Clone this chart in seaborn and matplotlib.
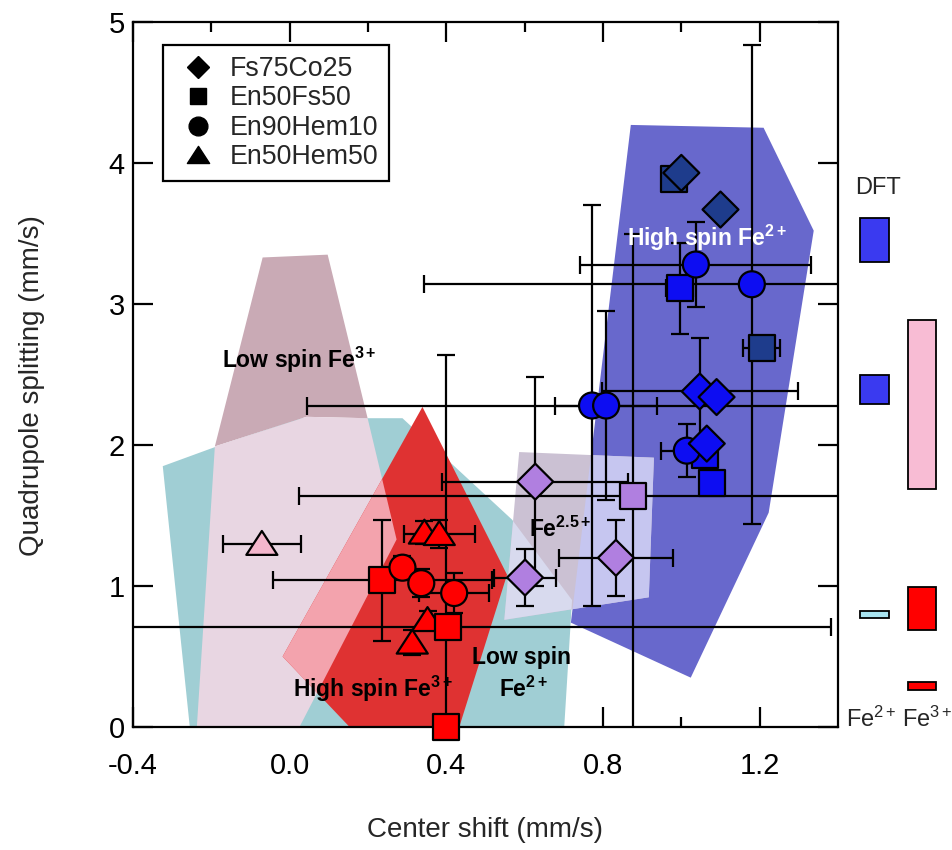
import numpy as np
import pandas as pd
import matplotlib
matplotlib.use("Agg")
import matplotlib.pyplot as plt
from matplotlib.path import Path
from matplotlib.lines import Line2D
from matplotlib.patches import Polygon
from matplotlib.ticker import MultipleLocator, FixedLocator
import seaborn as sns

# ---------------- data ----------------
sample = (["En50Hem50"] * 5 + ["En50Fs50"] * 9 + ["En90Hem10"] * 8 + ["Fs75Co25"] * 8)
center_shift = [-0.071, 0.344, 0.382, 0.352, 0.313,
                0.981, 0.996, 1.205, 1.078, 1.060, 0.876, 0.237, 0.405, 0.400,
                1.037, 1.180, 0.772, 0.808, 1.014, 0.288, 0.336, 0.420,
                1.000, 1.100, 1.047, 1.090, 1.065, 0.627, 0.601, 0.833]
quad_split = [1.30, 1.38, 1.37, 0.76, 0.60,
              3.89, 3.11, 2.69, 1.73, 1.93, 1.64, 1.04, 0.71, 0.00,
              3.28, 3.14, 2.28, 2.28, 1.96, 1.13, 1.02, 0.95,
              3.93, 3.67, 2.38, 2.34, 2.01, 1.74, 1.06, 1.20]
cs_err = [0.10, 0.0, 0.09, 0.0, 0.0,
          0.0, 0.035, 0.048, 0.0, 0.0, 0.851, 0.28, 0.976, 0.0,
          0.295, 0.836, 0.729, 0.13, 0.065, 0.0, 0.0, 0.09,
          0.0, 0.0, 0.25, 0.0, 0.0, 0.237, 0.08, 0.145]
qs_err = [0.0, 0.08, 0.10, 0.06, 0.09,
          0.0, 0.32, 0.0, 0.0, 0.0, 1.86, 0.43, 0.0, 2.64,
          0.30, 1.70, 1.42, 0.67, 0.19, 0.08, 0.10, 0.14,
          0.0, 0.0, 0.38, 0.0, 0.0, 0.74, 0.20, 0.27]
fill = (["#f4b6cc", "#ff0000", "#ff0000", "#ff0000", "#ff0000"]
        + ["#1e3c8c", "#0d0df2", "#1e3c8c", "#0d0df2", "#0d0df2", "#b07fe0", "#ff0000", "#ff0000", "#ff0000"]
        + ["#0d0df2"] * 5 + ["#ff0000"] * 3
        + ["#1e3c8c", "#1e3c8c", "#0d0df2", "#0d0df2", "#0d0df2", "#b07fe0", "#b07fe0", "#b07fe0"])

legend_order = ["Fs75Co25", "En50Fs50", "En90Hem10", "En50Hem50"]

# shaded regions (center shift, quadrupole splitting)
lowspin_fe2_cs = [-0.255, -0.324, -0.196, 0.025, 0.288, 0.568, 0.721, 0.701]
lowspin_fe2_qs = [0.0, 1.85, 1.98, 2.19, 2.19, 1.47, 0.90, 0.0]
lowspin_fe3_cs = [-0.191, -0.069, 0.097, 0.199, 0.043]
lowspin_fe3_qs = [1.99, 3.33, 3.35, 2.19, 2.20]
pale_cs = [-0.237, -0.191, 0.043, 0.199, 0.273, 0.025]
pale_qs = [0.0, 1.99, 2.20, 2.19, 1.33, 0.0]
highspin_fe3_cs = [0.339, 0.555, 0.433, 0.153, -0.018]
highspin_fe3_qs = [2.27, 1.08, 0.0, 0.0, 0.50]
highspin_fe2_cs = [0.871, 1.210, 1.338, 1.223, 1.024, 0.718]
highspin_fe2_qs = [4.27, 4.25, 3.52, 1.52, 0.35, 0.74]
fe25_cs = [0.586, 0.930, 0.917, 0.548]
fe25_qs = [1.95, 1.91, 0.92, 0.76]

# DFT ranges
dft_col = [0, 0, 0, 1, 1, 1]
dft_low = [3.30, 2.29, 0.77, 1.69, 0.69, 0.26]
dft_high = [3.61, 2.50, 0.82, 2.89, 0.99, 0.32]
dft_color = ["#3a3af0", "#3a3af0", "#a8e4f0", "#f8bcd4", "#ff0000", "#ff0000"]
dft_labels = ["Fe$^{2+}$", "Fe$^{3+}$"]

# ---------------- style ----------------
sns.set_style("ticks")
plt.rcParams["font.family"] = ["Liberation Sans", "DejaVu Sans"]
plt.rcParams["mathtext.fontset"] = "custom"
plt.rcParams["mathtext.rm"] = "Liberation Sans"
plt.rcParams["mathtext.it"] = "Liberation Sans:italic"
plt.rcParams["mathtext.bf"] = "Liberation Sans:bold"
plt.rcParams["axes.edgecolor"] = "black"
plt.rcParams["axes.linewidth"] = 1.6

fig = plt.figure(figsize=(9.53, 8.5), dpi=100)
ax = fig.add_axes([133 / 953, 123 / 850, 705 / 953, 705 / 850])

def poly(xs, ys, color, z, clip=None):
    p = Polygon(np.column_stack([xs, ys]), closed=True, facecolor=color,
                edgecolor="none", zorder=z)
    ax.add_patch(p)
    if clip is not None:
        p.set_clip_path(clip)
    return p

cyan_p = poly(lowspin_fe2_cs, lowspin_fe2_qs, "#a0ced4", 1.0)
poly(lowspin_fe3_cs, lowspin_fe3_qs, "#c9aab5", 1.1)
poly(pale_cs, pale_qs, "#e8d6e2", 1.15)
red_p = poly(highspin_fe3_cs, highspin_fe3_qs, "#df3232", 1.2)
poly(pale_cs, pale_qs, "#f3a3ad", 1.25, clip=red_p)
blue_p = poly(highspin_fe2_cs, highspin_fe2_qs, "#6868cc", 1.4)
poly(fe25_cs, fe25_qs, "#cbc1d3", 1.5)
poly(fe25_cs, fe25_qs, "#d8daee", 1.55, clip=cyan_p)
poly(fe25_cs, fe25_qs, "#c6c6f0", 1.6, clip=blue_p)

# triangle marker wider than tall
tri = Path([(-1.0, -0.72), (1.0, -0.72), (0.0, 0.82), (-1.0, -0.72)],
           [Path.MOVETO, Path.LINETO, Path.LINETO, Path.CLOSEPOLY])
markers = {"Fs75Co25": "D", "En50Fs50": "s", "En90Hem10": "o", "En50Hem50": tri}
sizes = {"Fs75Co25": 335, "En50Fs50": 350, "En90Hem10": 350, "En50Hem50": 500}

df = pd.DataFrame({"sample": sample, "cs": center_shift, "qs": quad_split,
                   "xerr": cs_err, "yerr": qs_err, "fill": fill})

ax.errorbar(df["cs"], df["qs"], xerr=df["xerr"], yerr=df["yerr"], fmt="none",
            ecolor="black", elinewidth=1.6, capsize=6.5, capthick=1.6, zorder=3)

sns.scatterplot(data=df, x="cs", y="qs", hue="fill", palette={c: c for c in set(fill)},
                style="sample", markers=markers, size="sample", sizes=sizes,
                edgecolor="black", linewidth=1.6, alpha=1, legend=False, ax=ax,
                zorder=4, clip_on=False)

# region labels
tb = dict(fontsize=16.5, fontweight="bold", zorder=5, va="baseline", ha="left")
ax.text(-0.173, 2.55, r"Low spin Fe$^{\mathbf{3+}}$", color="black", **tb)
ax.text(0.861, 3.41, r"High spin Fe$^{\mathbf{2+}}$", color="white", **tb)
ax.text(0.612, 1.35, r"Fe$^{\mathbf{2.5+}}$", color="black", **tb)
ax.text(0.466, 0.45, "Low spin", color="black", **tb)
ax.text(0.535, 0.21, r"Fe$^{\mathbf{2+}}$", color="black", **tb)
ax.text(0.008, 0.21, r"High spin Fe$^{\mathbf{3+}}$", color="black", **tb)

ax.set_xlim(-0.4, 1.4)
ax.set_ylim(0, 5)
ax.xaxis.set_major_locator(FixedLocator([-0.4, 0.0, 0.4, 0.8, 1.2]))
ax.xaxis.set_minor_locator(FixedLocator([-0.2, 0.2, 0.6, 1.0]))
ax.set_xticklabels(["-0.4", "0.0", "0.4", "0.8", "1.2"])
ax.yaxis.set_major_locator(MultipleLocator(1))
ax.tick_params(which="both", direction="in", top=True, right=True, width=1.6, colors="black")
ax.tick_params(which="major", length=14.4, labelsize=21)
ax.tick_params(which="minor", length=7.2)
ax.tick_params(axis="x", pad=18)
ax.tick_params(axis="y", pad=6)
for s in ax.spines.values():
    s.set_visible(True)
    s.set_linewidth(1.6)

ax.set_xlabel("Center shift (mm/s)", fontsize=20)
ax.set_ylabel("Quadrupole splitting (mm/s)", fontsize=20)
ax.xaxis.set_label_coords(0.5, -0.128)
ax.yaxis.set_label_coords(-0.125, 0.485)

handles = [
    Line2D([], [], marker="D", color="black", linestyle="None", markersize=11.5),
    Line2D([], [], marker="s", color="black", linestyle="None", markersize=12),
    Line2D([], [], marker="o", color="black", linestyle="None", markersize=13.5),
    Line2D([], [], marker=tri, color="black", linestyle="None", markersize=16),
]
leg = ax.legend(handles, legend_order, loc="upper left", bbox_to_anchor=(0.0426, 0.967),
                frameon=True, fancybox=False, edgecolor="black", framealpha=1,
                fontsize=19.3, borderpad=0.4, labelspacing=0.13, handletextpad=0.3,
                handlelength=1.8, borderaxespad=0)
leg.get_frame().set_linewidth(1.6)
leg.set_zorder(6)

# DFT panel
ax2 = fig.add_axes([845 / 953, 123 / 850, 108 / 953, 705 / 850])
ax2.bar(dft_col, np.array(dft_high) - np.array(dft_low), bottom=dft_low, width=0.61,
        color=dft_color, edgecolor="black", linewidth=1.3)
ax2.set_xlim(-0.621, 1.653)
ax2.set_ylim(0, 5)
ax2.axis("off")
ax2.text(0.07, 3.82, "DFT", fontsize=17, ha="center", va="center")
for xpos, lab in zip([-0.06, 1.12], dft_labels):
    ax2.text(xpos, 0.0, lab, fontsize=17, ha="center", va="baseline")

fig.savefig("out.png", dpi=100)
